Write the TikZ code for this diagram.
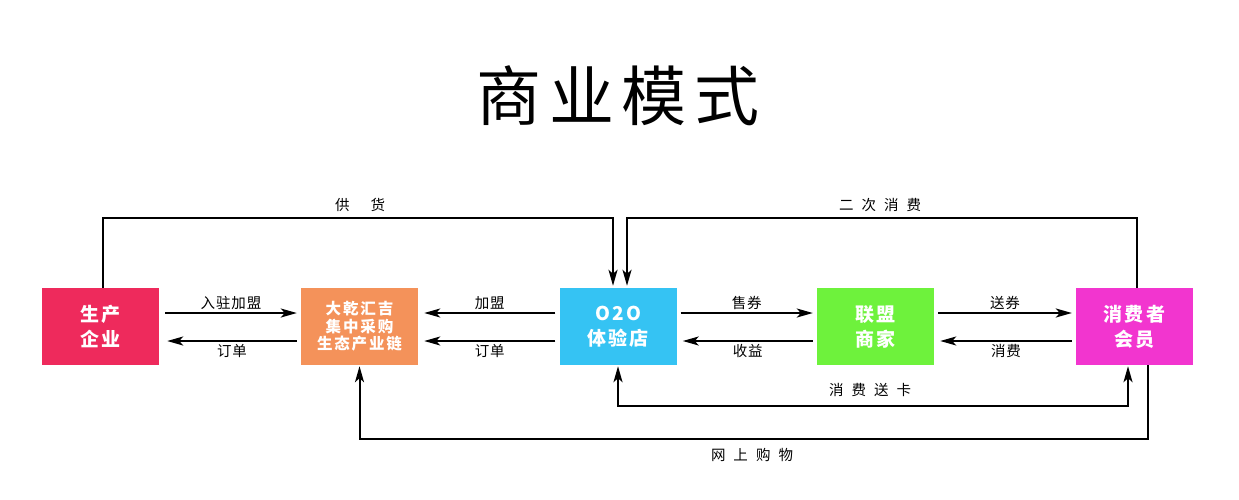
\documentclass[tikz,border=0pt]{standalone}
\usepackage{fontspec}
\setmainfont{Noto Sans CJK SC}
\newfontfamily\titlefont[LetterSpace=12]{Noto Sans CJK SC}
\newfontfamily\boxfont[LetterSpace=12]{Noto Sans CJK SC}
\newfontfamily\labfont[LetterSpace=6]{Noto Sans CJK SC}
\usetikzlibrary{arrows.meta}
\definecolor{cA}{HTML}{EE2A5C}
\definecolor{cB}{HTML}{F4925A}
\definecolor{cC}{HTML}{35C3F3}
\definecolor{cD}{HTML}{6EF23C}
\definecolor{cE}{HTML}{F235CF}
\tikzset{
  box/.style={rectangle, minimum width=117pt, minimum height=77pt, inner sep=0pt,
    align=center, text=white, font=\boxfont\bfseries\fontsize{19}{25}\selectfont},
  tip/.tip={Stealth[length=16pt,width=9pt,inset=4pt]},
  conn/.style={line width=2pt, -tip},
  conn2/.style={line width=2pt, tip-tip},
  lab/.style={font=\labfont\fontsize{14.5}{16}\selectfont, text=black, inner sep=2pt}
}
\begin{document}
\begin{tikzpicture}[x=1pt,y=-1pt]
\fill[white] (0,0) rectangle (1239,500);
\useasboundingbox (0,0) rectangle (1239,500);

\node[font=\titlefont\fontsize{65}{70}\selectfont] (title) at (618,96) {商业模式};

\node[box, fill=cA] (A) at (100.5,326.5) {生产\\企业};
\node[box, fill=cB, font=\boxfont\bfseries\fontsize{15.5}{17.5}\selectfont] (B) at (359.5,326.5) {大乾汇吉\\集中采购\\生态产业链};
\node[box, fill=cC] (C) at (618,326.5) {O2O\\体验店};
\node[box, fill=cD] (D) at (875.5,326.5) {联盟\\商家};
\node[box, fill=cE] (E) at (1134.5,326.5) {消费者\\会员};

% horizontal arrows
\draw[conn] ([xshift=6pt,yshift=13.5pt]A.east) -- ([xshift=-4pt,yshift=13.5pt]B.west) node[lab,midway,above]{入驻加盟};
\draw[conn] ([xshift=-4pt,yshift=-14.5pt]B.west) -- ([xshift=8pt,yshift=-14.5pt]A.east) node[lab,midway,below]{订单};

\draw[conn] ([xshift=-4pt,yshift=13.5pt]C.west) -- ([xshift=6pt,yshift=13.5pt]B.east) node[lab,midway,above]{加盟};
\draw[conn] ([xshift=-4pt,yshift=-14.5pt]C.west) -- ([xshift=6pt,yshift=-14.5pt]B.east) node[lab,midway,below]{订单};

\draw[conn] ([xshift=4pt,yshift=13.5pt]C.east) -- ([xshift=-4pt,yshift=13.5pt]D.west) node[lab,midway,above]{售券};
\draw[conn] ([xshift=-4pt,yshift=-14.5pt]D.west) -- ([xshift=6pt,yshift=-14.5pt]C.east) node[lab,midway,below]{收益};

\draw[conn] ([xshift=4pt,yshift=13.5pt]D.east) -- ([xshift=-4pt,yshift=13.5pt]E.west) node[lab,midway,above]{送券};
\draw[conn] ([xshift=-4pt,yshift=-14.5pt]E.west) -- ([xshift=6pt,yshift=-14.5pt]D.east) node[lab,midway,below]{消费};

% top loops
\draw[conn, shorten >=2pt] ([xshift=2.5pt]A.north) -- ++(0,-70) -| ([xshift=-5pt]C.north);
\node[lab] (l1) at (360,205) {供\hspace{21pt}货};
\draw[conn, shorten >=2pt] ([xshift=2.5pt]E.north) -- ++(0,-70) -| ([xshift=9pt]C.north);
\node[lab] (l2) at (880,205) {二\hspace{8pt}次\hspace{8pt}消\hspace{8pt}费};

% bottom loops
\draw[conn2, shorten >=1pt, shorten <=1pt] (C.south) -- ++(0,41) -| ([xshift=-6.5pt]E.south);
\node[lab] (l3) at (870,390) {消\hspace{8pt}费\hspace{8pt}送\hspace{8pt}卡};
\draw[conn, shorten >=1pt] ([xshift=13.5pt]E.south) -- ++(0,74) -| (B.south);
\node[lab] (l4) at (752,455) {网\hspace{8pt}上\hspace{8pt}购\hspace{8pt}物};
\end{tikzpicture}
\end{document}
